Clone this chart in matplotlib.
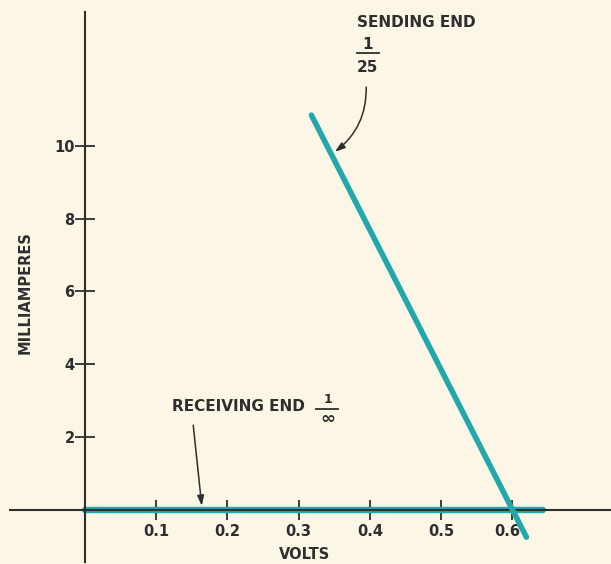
import matplotlib
matplotlib.use("Agg")
import matplotlib.pyplot as plt
from matplotlib.transforms import ScaledTranslation

# ---- data ----
sending_volts = [0.318, 0.62]
sending_ma = [10.85, -0.76]
receiving_volts = [0.0, 0.643]
receiving_ma = [0.0, 0.0]

x_ticks = [0.1, 0.2, 0.3, 0.4, 0.5, 0.6]
x_tick_labels = ["0.1", "0.2", "0.3", "0.4", "0.5", "0.6"]
y_ticks = [2, 4, 6, 8, 10]
y_tick_labels = ["2", "4", "6", "8", "10"]

BG = "#FCF6E6"
TEAL = "#22A8AA"
INK = "#2E2E2E"
FONT = ["Liberation Sans Narrow", "DejaVu Sans"]

plt.rcParams["font.family"] = FONT
plt.rcParams["font.weight"] = "bold"

fig = plt.figure(figsize=(6.11, 5.64), dpi=100, facecolor=BG)
ax = fig.add_axes([0, 0, 1, 1], facecolor=BG)
ax.set_xlim(-0.1194, 0.7388)
ax.set_ylim(-1.499, 14.017)

# curves
ax.plot(receiving_volts, receiving_ma, color=TEAL, lw=4.6, solid_capstyle="round", zorder=2)
ax.plot(sending_volts, sending_ma, color=TEAL, lw=4.0, solid_capstyle="round", zorder=3)

# axes through origin
for s in ["top", "right"]:
    ax.spines[s].set_visible(False)
ax.spines["left"].set_position(("data", 0))
ax.spines["bottom"].set_position(("data", 0))
ax.spines["left"].set_bounds(-1.44, 13.69)
ax.spines["bottom"].set_bounds(-0.105, 0.739)
for s in ["left", "bottom"]:
    ax.spines[s].set_linewidth(1.5)
    ax.spines[s].set_color(INK)
    ax.spines[s].set_zorder(2.5)

ax.set_xticks(x_ticks)
ax.set_xticklabels(x_tick_labels)
ax.set_yticks(y_ticks)
ax.set_yticklabels(y_tick_labels)
ax.tick_params(axis="both", direction="inout", length=15, width=1.3, color=INK,
               labelsize=10.5, labelcolor=INK)
ax.tick_params(axis="x", pad=3)
ax.tick_params(axis="y", pad=0)

# the last volt label sits a little left of its tick in the reference
last_label = ax.get_xticklabels()[-1]
last_label.set_transform(last_label.get_transform() + ScaledTranslation(-5 / 100, 0, fig.dpi_scale_trans))

# axis titles
ax.text(0.309, -1.25, "VOLTS", ha="center", va="center", fontsize=10.5, color=INK,
        fontweight="bold")
ax.text(-0.0843, 5.98, "MILLIAMPERES", ha="center", va="center", rotation=90,
        fontsize=10.5, color=INK, fontweight="bold")

# sending end label
ax.text(0.382, 13.41, "SENDING END", ha="left", va="center", fontsize=11, color=INK,
        fontweight="bold")
ax.text(0.397, 12.80, "1", ha="center", va="center", fontsize=11, color=INK, fontweight="bold")
ax.plot([0.382, 0.413], [12.57, 12.57], color=INK, lw=1.3)
ax.text(0.397, 12.15, "25", ha="center", va="center", fontsize=11, color=INK, fontweight="bold")
ax.annotate("", xy=(0.351, 9.84), xytext=(0.395, 11.62),
            arrowprops=dict(arrowstyle="-|>,head_length=0.6,head_width=0.2", color=INK, lw=1.1,
                            connectionstyle="arc3,rad=-0.25", shrinkA=0, shrinkB=0))

# receiving end label
ax.text(0.1218, 2.83, "RECEIVING END", ha="left", va="center", fontsize=11, color=INK,
        fontweight="bold")
ax.text(0.341, 3.03, "1", ha="center", va="center", fontsize=9, color=INK, fontweight="bold")
ax.plot([0.325, 0.356], [2.76, 2.76], color=INK, lw=1.3)
ax.text(0.341, 2.50, "\u221e", ha="center", va="center", fontsize=13, color=INK,
        fontweight="bold", family=["DejaVu Sans"])
ax.annotate("", xy=(0.164, 0.1), xytext=(0.152, 2.32),
            arrowprops=dict(arrowstyle="-|>,head_length=0.6,head_width=0.2", color=INK, lw=1.1,
                            shrinkA=0, shrinkB=0))

fig.savefig("out.png", dpi=100, facecolor=BG)
